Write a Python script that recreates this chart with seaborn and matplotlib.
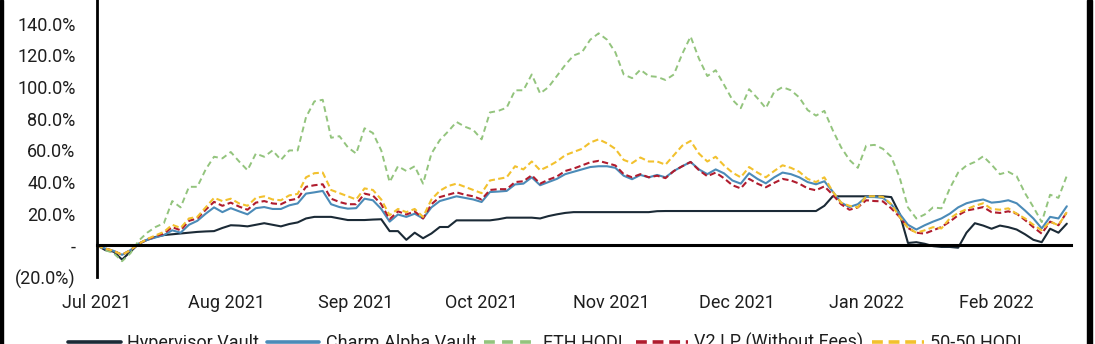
import numpy as np
import pandas as pd
import matplotlib
matplotlib.use("Agg")
import matplotlib.pyplot as plt
import matplotlib.dates as mdates
from matplotlib.ticker import FuncFormatter, MultipleLocator
from matplotlib.patches import Rectangle
import seaborn as sns

# Cumulative return (%) sampled every two days, 1 Jul 2021 - 18 Feb 2022
dates = pd.date_range("2021-07-01", "2022-02-18", freq="2D")

hypervisor_vault = [
    0, -3, -4, -9, -4, 1, 3.5, 5.3, 6.5, 7,
    7.5, 8, 8.5, 8.8, 9, 11, 12.7, 12.5, 12, 13,
    14, 13, 12, 13.5, 14.5, 17, 18, 18, 18, 17,
    16, 16, 16, 16.3, 16.5, 9, 9, 3.5, 8, 4.5,
    7.5, 11.6, 11.6, 15.8, 15.8, 15.8, 15.8, 15.8, 16.5, 17.5,
    17.5, 17.5, 17.5, 17, 18.5, 19.6, 20.5, 21, 21, 21,
    21, 21, 21, 21, 21, 21, 21, 21.6, 21.7, 21.7,
    21.7, 21.7, 21.7, 21.7, 21.7, 21.7, 21.7, 21.7, 21.7, 21.7,
    21.7, 21.7, 21.7, 21.7, 21.7, 21.7, 21.7, 25, 31, 31,
    31, 31, 31, 31, 31, 30.5, 20, 1.5, 2, 1,
    -0.5, -1, -1, -1.5, 8, 14, 12.5, 10.5, 12.5, 11.5,
    10, 7, 3.5, 2, 10.5, 8, 13.7,
]

charm_alpha_vault = [
    0, -2, -3.5, -6, -3, 1, 3.5, 5, 6.5, 9.5,
    8, 13, 15.5, 20, 24, 21, 23.5, 21.5, 19.6, 23.5,
    24.2, 23, 23, 25.3, 26.5, 32.7, 33.5, 34.4, 26, 24.2,
    23.2, 23.5, 29.5, 28.5, 23, 15, 19.5, 18, 20, 17,
    24, 28, 29.5, 31, 30, 29, 27.4, 33.7, 34, 34.4,
    38.5, 39, 43, 38, 40, 42, 45, 46.5, 48, 49.5,
    50, 50, 49, 44, 41.8, 44.5, 43, 44.5, 43, 47,
    50, 52.7, 48, 45, 48, 45.5, 41, 39, 45.6, 42,
    39.2, 43, 46, 45, 43, 40, 38.6, 40.5, 34, 27,
    24.2, 26, 30.6, 30.5, 30, 25.8, 20, 13, 10, 12.7,
    15, 17, 20, 24, 26.6, 28, 29, 27, 27.5, 28.5,
    26.6, 22, 17, 10.7, 18, 17, 24.7,
]

eth_hodl = [
    0, -3, -5, -10, -5, 3, 8, 11.6, 14, 28,
    24, 37, 37, 48, 56, 55, 59, 53, 47.5, 58,
    56, 60, 54, 60, 60, 81, 91, 92, 68, 69,
    62, 58, 74, 71, 60, 40, 50, 47, 50, 39,
    58, 66.5, 72, 78, 75, 73, 67, 84, 85, 87,
    98, 98, 108, 96, 100, 107, 114, 120, 122, 130,
    134, 130, 122, 108, 105.7, 111, 107, 106.5, 104.5, 108,
    121, 132, 118, 107, 110.7, 101.5, 92, 86.7, 98.7, 93,
    86.7, 97, 100, 98, 93.5, 85.5, 82, 85, 72.8, 62,
    54, 49, 63, 63.5, 61, 56, 43, 24, 17, 19.5,
    24, 23.4, 36, 46, 50.5, 52.7, 56.3, 51, 45, 46.5,
    43.7, 33, 24.2, 14.7, 32, 30, 44,
]

v2_lp = [
    0, -2, -3.5, -6, -3, 1, 3.8, 5.8, 7.5, 11.5,
    9.5, 15.5, 17, 22.5, 27.5, 25, 27, 24.5, 22.5, 27,
    28, 26.5, 26, 28.5, 29.5, 37, 38, 38.6, 29.5, 27.4,
    26, 26, 32.7, 31.5, 26, 16.5, 21.5, 19.5, 21.5, 17,
    26, 30.5, 32, 33.5, 32, 31, 29, 35, 35.5, 35.5,
    40, 40.5, 44.3, 39, 41.5, 43.5, 47, 48.5, 50.5, 52.5,
    53.4, 52, 50.5, 45, 43, 45, 43, 44, 42.5, 47,
    50, 52.7, 47.5, 43.7, 46, 42.4, 38, 36, 42, 39,
    36.7, 39.5, 42, 41, 39, 36, 34.8, 37.3, 32, 26,
    22.5, 24, 28.5, 28, 27.8, 23.4, 18, 11, 8, 7.4,
    9.5, 11.6, 15, 19, 22, 23, 24.2, 21, 20.5, 21.5,
    20, 16, 11.5, 7.4, 15, 12.7, 21,
]

hodl_50_50 = [
    0, -2, -3.5, -6, -3, 1, 4, 6.3, 8.5, 13,
    11, 17, 18, 24, 30, 28, 29.5, 26.5, 25, 30,
    31, 29, 28.5, 31.6, 32.5, 43, 45.6, 46, 35, 33,
    31, 29, 36, 35, 29, 19, 23, 21, 23, 18,
    29, 34.5, 37.5, 39, 37, 35, 33, 41, 42, 43,
    50, 48, 53, 47.5, 50, 53, 57, 59, 61, 65,
    67, 64.5, 61, 54, 52, 55.5, 53, 53, 51, 57,
    63, 66, 58, 53, 56, 50.5, 46, 43, 49.5, 46,
    43, 47, 50.6, 49, 46.5, 42, 40, 43, 34, 27,
    25, 24, 31, 31, 30.6, 26, 18, 11, 8, 9.5,
    11.5, 10.7, 17, 20.5, 22.8, 25, 26.6, 23, 22.5, 23.4,
    20, 17, 13, 9.5, 15, 12.7, 21,
]

series_names = ["Hypervisor Vault", "Charm Alpha Vault", "ETH HODL",
                "V2 LP (Without Fees)", "50-50 HODL"]
series_values = [hypervisor_vault, charm_alpha_vault, eth_hodl, v2_lp, hodl_50_50]

line_styles = {
    "Hypervisor Vault": dict(color="#1b2a36", linewidth=1.5, linestyle="-"),
    "Charm Alpha Vault": dict(color="#4b8bb8", linewidth=1.5, linestyle="-"),
    "ETH HODL": dict(color="#93c47d", linewidth=1.4, linestyle=(0, (3, 2))),
    "V2 LP (Without Fees)": dict(color="#b01c2e", linewidth=1.5, linestyle=(0, (3, 1.6))),
    "50-50 HODL": dict(color="#f2c12e", linewidth=1.5, linestyle=(0, (3, 1.6))),
}

sns.set_style("white")
plt.rcParams["font.family"] = ["Roboto", "DejaVu Sans"]
text_color = "#1e1e1e"

W, H = 1095, 344
fig = plt.figure(figsize=(W / 100, H / 100), dpi=100)
ax = fig.add_axes([97 / W, 67 / H, 974 / W, 284.8 / H])

for name, vals in zip(series_names, series_values):
    sns.lineplot(x=dates, y=vals, ax=ax, label=name, legend=False,
                 errorbar=None, **line_styles[name])

ax.set_xlim(pd.Timestamp("2021-07-01"), pd.Timestamp("2022-02-19"))
ax.set_ylim(-20, 160)
ax.set_xlabel("")
ax.set_ylabel("")


def pct_fmt(v, pos):
    if abs(v) < 1e-9:
        return "-"
    if v < 0:
        return f"({abs(v):.1f}%)"
    return f"{v:.1f}%"


ax.yaxis.set_major_locator(MultipleLocator(20))
ax.yaxis.set_major_formatter(FuncFormatter(pct_fmt))
ax.xaxis.set_major_locator(mdates.MonthLocator())
ax.xaxis.set_major_formatter(mdates.DateFormatter("%b %Y"))

for side in ("top", "right"):
    ax.spines[side].set_visible(False)
ax.spines["bottom"].set_position(("data", 0))
ax.spines["bottom"].set_linewidth(2.2)
ax.spines["left"].set_linewidth(2.0)
ax.spines["bottom"].set_color("black")
ax.spines["left"].set_color("black")

ax.tick_params(axis="y", direction="out", length=4.5, width=1.8, pad=11,
               labelsize=13, labelcolor=text_color, color="black")
ax.tick_params(axis="x", direction="out", length=4, width=1.8, pad=31,
               labelsize=13, labelcolor=text_color, color="black")

handles, labels = ax.get_legend_handles_labels()
leg = fig.legend(handles, labels, loc="center", bbox_to_anchor=(0.5, 1.5 / H),
                 ncol=5, frameon=False, handlelength=2.9, handletextpad=0.35,
                 columnspacing=0.45, fontsize=13, labelcolor=text_color)
for h in leg.legend_handles:
    h.set_linewidth(2.6)

# frame edges on the left and right of the canvas
fig.add_artist(Rectangle((0, 0), 3 / W, 1, transform=fig.transFigure,
                         color="black", zorder=10))
fig.add_artist(Rectangle((1087 / W, 0), 5 / W, 1, transform=fig.transFigure,
                         color="black", zorder=10))

fig.savefig("out.png", dpi=100)
